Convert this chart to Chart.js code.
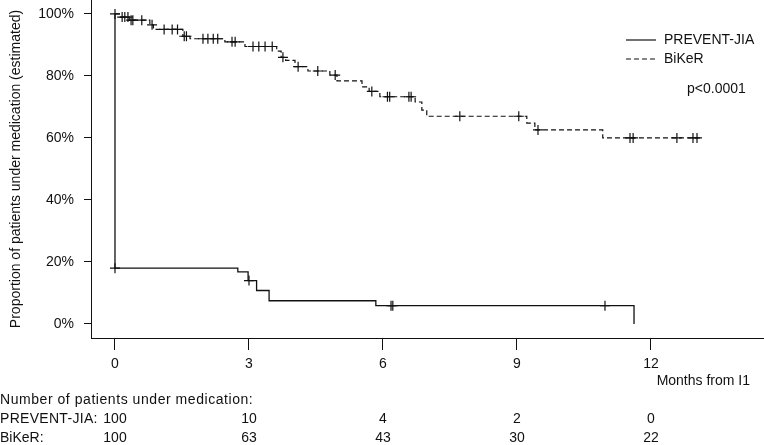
<!DOCTYPE html>
<html>
<head>
<meta charset="utf-8">
<script src="https://cdn.jsdelivr.net/npm/chart.js@4.4.1/dist/chart.umd.min.js"></script>
<style>
  html, body { margin: 0; padding: 0; background: #fff; }
  #wrap { width: 764px; height: 445px; position: relative; }
</style>
</head>
<body>
<div id="wrap"><canvas id="km"></canvas></div>
<script>
// x axis ticks (months) and y axis ticks (percent)
const monthTicks = [0, 3, 6, 9, 12];
const percentTicks = [0, 20, 40, 60, 80, 100];

// PREVENT-JIA step curve: time of change -> new level (%)
const preventTimes = [0, 0, 2.75, 2.98, 3.17, 3.45, 5.84, 11.62, 11.62];
const preventSurv = [100, 18, 16.8, 14, 10.8, 7.5, 5.9, 5.9, 0];
const preventCensored = [0, 3.0, 6.18, 6.22, 10.97];

// BiKeR step curve
const bikerTimes = [0, 0.12, 0.32, 0.78, 0.86, 1.52, 1.68, 2.46, 2.91, 3.62, 3.72, 3.82, 4.03, 4.32, 4.81, 4.97, 5.53, 5.69, 5.93, 6.72, 6.87, 6.98, 9.22, 9.4, 10.92, 13.14];
const bikerSurv = [100, 99, 98, 96.5, 95, 92.8, 92, 91, 89.5, 88, 86, 85, 83, 81.6, 80.3, 78.4, 76.5, 75, 73.3, 71.6, 69, 67, 64.8, 62.6, 60, 60];
const bikerCensored = [0, 0.16, 0.22, 0.29, 0.36, 0.4, 0.6, 0.83, 1.1, 1.28, 1.4, 1.55, 1.6, 1.97, 2.08, 2.2, 2.3, 2.62, 2.69, 3.09, 3.22, 3.36, 3.52, 3.76, 4.1, 4.54, 4.93, 5.75, 6.1, 6.15, 6.58, 6.63, 7.72, 9.04, 9.47, 11.53, 11.6, 12.58, 12.94, 13.03];

// number at risk table
const riskTitle = 'Number of patients under medication:';
const preventRisk = [100, 10, 4, 2, 0];
const bikerRisk = [100, 63, 43, 30, 22];

const FONT = "'Liberation Sans', Arial, sans-serif";
const INK = '#111';

// level of a step curve at time t
const levelAt = (times, surv, t) => {
  let v = surv[0];
  for (let i = 0; i < times.length; i++) {
    if (times[i] <= t) v = surv[i];
  }
  return v;
};

const toPoints = (times, surv) => times.map((t, i) => ({ x: t, y: surv[i] }));
const toMarks = (times, surv, cens) => cens.map(t => ({ x: t, y: levelAt(times, surv, t) }));

// draws legend, p value and the at-risk table
const annotations = {
  id: 'annotations',
  afterDraw(chart) {
    const ctx = chart.ctx;
    const xs = chart.scales.x;
    ctx.save();
    ctx.fillStyle = INK;
    ctx.strokeStyle = INK;
    ctx.font = '14px ' + FONT;
    ctx.textBaseline = 'middle';

    // legend
    ctx.lineWidth = 1.2;
    ctx.beginPath();
    ctx.moveTo(626, 40);
    ctx.lineTo(656, 40);
    ctx.stroke();
    ctx.setLineDash([5, 3]);
    ctx.beginPath();
    ctx.moveTo(626, 59);
    ctx.lineTo(656, 59);
    ctx.stroke();
    ctx.setLineDash([]);
    ctx.textAlign = 'left';
    ctx.fillText('PREVENT-JIA', 664, 40);
    ctx.fillText('BiKeR', 664, 59);
    ctx.fillText('p<0.0001', 687, 89);

    // axis caption
    ctx.textAlign = 'right';
    ctx.fillText('Months from I1', 750, 381);

    // at-risk table
    ctx.textAlign = 'left';
    ctx.letterSpacing = '0.55px';
    ctx.fillText(riskTitle, 0, 400);
    ctx.letterSpacing = '0.3px';
    ctx.fillText('PREVENT-JIA:', 0, 419);
    ctx.letterSpacing = '0px';
    ctx.fillText('BiKeR:', 0, 438);
    ctx.textAlign = 'center';
    monthTicks.forEach((m, i) => {
      const px = xs.getPixelForValue(m);
      ctx.fillText(String(preventRisk[i]), px, 419);
      ctx.fillText(String(bikerRisk[i]), px, 438);
    });
    ctx.restore();
  }
};

new Chart(document.getElementById('km'), {
  type: 'line',
  data: {
    datasets: [
      {
        label: 'PREVENT-JIA',
        data: toPoints(preventTimes, preventSurv),
        borderColor: INK,
        borderWidth: 1.3,
        stepped: true,
        pointRadius: 0,
        fill: false
      },
      {
        label: 'BiKeR',
        data: toPoints(bikerTimes, bikerSurv),
        borderColor: INK,
        borderWidth: 1.2,
        borderDash: [5, 3],
        stepped: true,
        pointRadius: 0,
        fill: false
      },
      {
        label: 'PREVENT-JIA censored',
        data: toMarks(preventTimes, preventSurv, preventCensored),
        showLine: false,
        pointStyle: 'cross',
        pointRadius: 5,
        pointBorderWidth: 1.2,
        pointBorderColor: INK
      },
      {
        label: 'BiKeR censored',
        data: toMarks(bikerTimes, bikerSurv, bikerCensored),
        showLine: false,
        pointStyle: 'cross',
        pointRadius: 5,
        pointBorderWidth: 1.2,
        pointBorderColor: INK
      }
    ]
  },
  options: {
    responsive: true,
    maintainAspectRatio: false,
    animation: false,
    layout: { padding: 0, autoPadding: false },
    plugins: {
      legend: { display: false },
      tooltip: { enabled: false }
    },
    scales: {
      x: {
        type: 'linear',
        min: -0.537,
        max: 14.53,
        afterBuildTicks: scale => {
          scale.ticks = monthTicks.map(v => ({ value: v }));
        },
        afterFit: scale => {
          scale.height = 107;
          scale.paddingLeft = 0;
          scale.paddingRight = 0;
        },
        border: { display: true, color: INK, width: 1 },
        grid: { drawOnChartArea: false, drawTicks: true, tickLength: 12, color: INK },
        ticks: {
          color: INK,
          padding: 6,
          maxRotation: 0,
          font: { family: FONT, size: 14 }
        }
      },
      y: {
        min: -4.52,
        max: 104.5,
        afterBuildTicks: scale => {
          scale.ticks = percentTicks.map(v => ({ value: v }));
        },
        afterFit: scale => {
          scale.width = 91;
          scale.paddingTop = 0;
          scale.paddingBottom = 0;
        },
        border: { display: true, color: INK, width: 1 },
        grid: { drawOnChartArea: false, drawTicks: true, tickLength: 7, color: INK },
        ticks: {
          color: INK,
          padding: 10,
          font: { family: FONT, size: 14 },
          callback: v => v + '%'
        },
        title: {
          display: true,
          text: 'Proportion of patients under medication (estimated)',
          color: INK,
          font: { family: FONT, size: 14 },
          padding: { top: 8, bottom: 0 }
        }
      }
    }
  },
  plugins: [annotations]
});
</script>
</body>
</html>
